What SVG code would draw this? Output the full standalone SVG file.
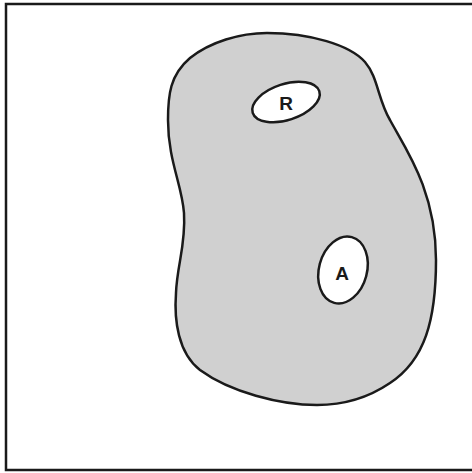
<svg xmlns="http://www.w3.org/2000/svg" width="472" height="473" viewBox="0 0 472 473">
<style>
.frame{fill:none;stroke:#1a1a1a;stroke-width:2.5}
.blob{fill:#d0d0d0;stroke:#1a1a1a;stroke-width:2.5}
.hole{fill:#ffffff;stroke:#1a1a1a;stroke-width:2.5}
.lbl{font-family:"Liberation Sans",Arial,sans-serif;font-size:19px;font-weight:bold;fill:#1a1a1a;text-anchor:middle}
</style>
<rect width="472" height="473" fill="#ffffff"/>
<path class="frame" d="M 476,4 H 6 V 470 H 476"/>
<g id="region">
<path class="blob" d="M 267,33 C 310,33 350,45 365,62 C 378,77 378,100 390,120 C 405,148 436,190 436,260 C 436,320 425,360 390,383 C 365,400 340,405 317,405 C 280,405 230,392 200,370 C 178,353 174,320 176,293 C 177,265 186,245 184,213 C 182,185 168,160 168,120 C 168,95 170,75 190,58 C 210,42 240,33 267,33 Z"/>
</g>
<g id="R">
<ellipse class="hole" cx="286" cy="102" rx="35" ry="18" transform="rotate(-18 286 102)"/>
<text class="lbl" x="286" y="110">R</text>
</g>
<g id="A">
<ellipse class="hole" cx="343" cy="270" rx="24" ry="34" transform="rotate(15 343 270)"/>
<text class="lbl" x="342" y="280">A</text>
</g>
</svg>
